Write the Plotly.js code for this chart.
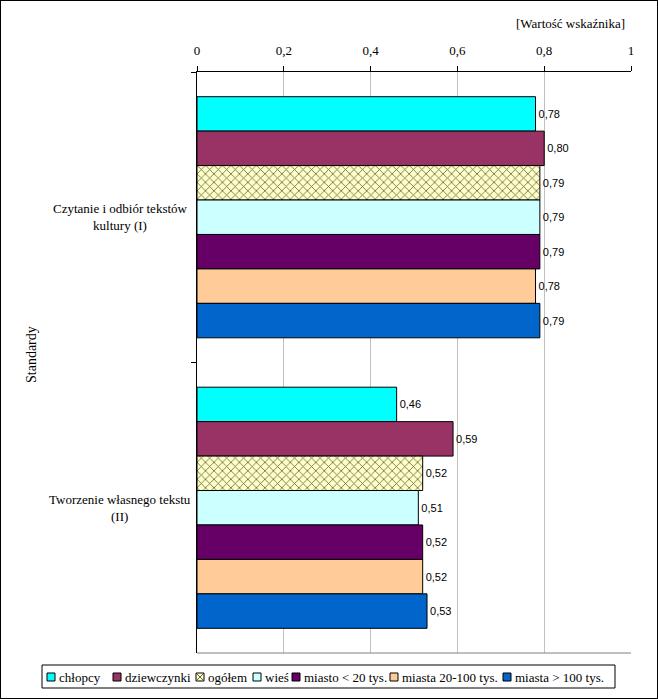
<!DOCTYPE html>
<html><head><meta charset="utf-8">
<script src="https://cdn.plot.ly/plotly-3.0.1.min.js"></script>
<style>
html,body{margin:0;padding:0;background:#fff;}
#chart{width:656px;height:697px;border:1px solid #000;}
</style></head>
<body><div id="chart"></div>
<script>
const categories = ['Czytanie i odbiór tekstów kultury (I)', 'Tworzenie własnego tekstu (II)'];
const categoryLabels = ['Czytanie i odbiór tekstów<br>kultury (I)', 'Tworzenie własnego tekstu<br>(II)'];
const seriesNames = ['chłopcy', 'dziewczynki', 'ogółem', 'wieś', 'miasto < 20 tys.', 'miasta 20-100 tys.', 'miasta > 100 tys.'];
const chlopcy = [0.78, 0.46];
const dziewczynki = [0.80, 0.59];
const ogolem = [0.79, 0.52];
const wies = [0.79, 0.51];
const miastoPonizej20 = [0.79, 0.52];
const miasta20do100 = [0.78, 0.52];
const miastaPowyzej100 = [0.79, 0.53];
const xTickValues = [0, 0.2, 0.4, 0.6, 0.8, 1];

const seriesValues = [chlopcy, dziewczynki, ogolem, wies, miastoPonizej20, miasta20do100, miastaPowyzej100];
const colors = ['#00FFFF', '#993366', '#FFFFCC', '#CCFFFF', '#660066', '#FFCC99', '#0066CC'];
const SERIF = "'Liberation Serif', 'Times New Roman', 'DejaVu Serif', serif";
const SANS = "'Liberation Sans', Arial, sans-serif";

const traces = seriesValues.map((vals, i) => {
  const t = {
    type: 'bar', orientation: 'h', name: seriesNames[i],
    x: vals, y: categories,
    marker: {color: colors[i], line: {color: '#000', width: 1}},
    text: vals, texttemplate: '%{x:.2f}', textposition: 'outside',
    textfont: {family: SANS, size: 11, color: '#000'},
    cliponaxis: false, showlegend: false, hoverinfo: 'x+name'
  };
  if (i === 2) {
    t.marker.pattern = {shape: 'x', bgcolor: '#FFFFCC', fgcolor: '#666633', size: 6, solidity: 0.25};
  }
  return t;
});

// plot area in page px: x 197..631, y 72..653
const PL = 197, PW = 434, PT = 72, PH = 581;
const px2x = p => (p - PL) / PW;
const py2y = p => (PT + PH - p) / PH;

const annotations = [];
const shapes = [];
categories.forEach((c, i) => {
  annotations.push({xref: 'paper', yref: 'y', x: px2x(120), y: c, text: categoryLabels[i],
    showarrow: false, xanchor: 'center', yanchor: 'middle', align: 'center',
    font: {family: SERIF, size: 13, color: '#000'}});
});
annotations.push({xref: 'paper', yref: 'paper', x: px2x(31), y: py2y(355), text: 'Standardy',
  textangle: -90, showarrow: false, xanchor: 'center', yanchor: 'middle',
  font: {family: SERIF, size: 14, color: '#000'}});
annotations.push({xref: 'paper', yref: 'paper', x: px2x(627), y: py2y(23), text: '[Wartość wskaźnika]',
  showarrow: false, xanchor: 'right', yanchor: 'middle',
  font: {family: SERIF, size: 13, color: '#000'}});

// bottom gray border of plot area
shapes.push({type: 'line', xref: 'paper', yref: 'paper', x0: 0, x1: 1, y0: 0, y1: 0, line: {color: '#808080', width: 1}});

// manual legend
const legSquares = [47, 113, 196, 253, 292, 390, 503];
const legY = 677;
shapes.push({type: 'rect', xref: 'paper', yref: 'paper', x0: px2x(42), x1: px2x(615), y0: py2y(665), y1: py2y(688),
  line: {color: '#000', width: 1}, fillcolor: '#fff'});
seriesNames.forEach((n, i) => {
  const sx = legSquares[i];
  shapes.push({type: 'rect', xref: 'paper', yref: 'paper', x0: px2x(sx), x1: px2x(sx + 8), y0: py2y(legY + 4), y1: py2y(legY - 4),
    line: {color: '#000', width: 1}, fillcolor: colors[i]});
  if (i === 2) {
    shapes.push({type: 'line', xref: 'paper', yref: 'paper', x0: px2x(sx + 1), x1: px2x(sx + 7), y0: py2y(legY + 3), y1: py2y(legY - 3), line: {color: '#666633', width: 1}});
    shapes.push({type: 'line', xref: 'paper', yref: 'paper', x0: px2x(sx + 1), x1: px2x(sx + 7), y0: py2y(legY - 3), y1: py2y(legY + 3), line: {color: '#666633', width: 1}});
  }
  annotations.push({xref: 'paper', yref: 'paper', x: px2x(sx + 10), y: py2y(legY), text: n,
    showarrow: false, xanchor: 'left', yanchor: 'middle',
    font: {family: SERIF, size: 13, color: '#000'}});
});

const layout = {
  width: 656, height: 697,
  margin: {l: PL - 1, r: 656 - (PL + PW - 1), t: PT - 1, b: 697 - (PT + PH - 1)},
  paper_bgcolor: '#fff', plot_bgcolor: '#fff',
  separators: ', ',
  barmode: 'group', bargap: 0.17, bargroupgap: 0,
  showlegend: false,
  font: {family: SERIF, size: 13, color: '#000'},
  xaxis: {side: 'top', range: [0, 1], tickvals: xTickValues, showgrid: true, gridcolor: '#C0C0C0', gridwidth: 1,
    zeroline: false, showline: true, linecolor: '#000', linewidth: 1, ticks: 'outside', ticklen: 5, tickcolor: '#000',
    ticklabelstandoff: 6,
    tickfont: {family: SERIF, size: 13, color: '#000'}, fixedrange: true},
  yaxis: {type: 'category', autorange: 'reversed', showticklabels: false, ticks: 'outside', tickson: 'boundaries',
    ticklen: 5, tickcolor: '#000', showline: true, linecolor: '#000', linewidth: 1, showgrid: false, zeroline: false, fixedrange: true},
  annotations: annotations, shapes: shapes
};

Plotly.newPlot('chart', traces, layout, {displayModeBar: false, staticPlot: true});
</script></body></html>
